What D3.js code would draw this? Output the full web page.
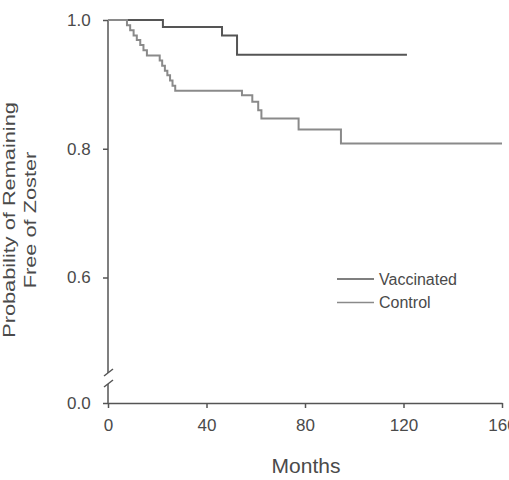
<!DOCTYPE html>
<html>
<head>
<meta charset="utf-8">
<script src="https://cdn.jsdelivr.net/npm/d3@7"></script>
<style>
  body { margin: 0; background: #fff; }
  text { font-family: "Liberation Sans", Arial, Helvetica, sans-serif; fill: #4a4a4a; }
</style>
</head>
<body>
<script>
// Kaplan-Meier curves (months, probability)
var vaccMonths = [0, 22.3, 46.3, 52.4, 121.4];
var vaccValues = [1.0, 0.989, 0.976, 0.946, 0.946];

var ctrlMonths = [0, 7.7, 9.0, 10.4, 11.7, 13.1, 14.4, 15.8,
                  21.0, 22.0, 23.1, 24.1, 25.2, 26.2, 27.3,
                  54.4, 58.6, 61.0, 62.3, 77.4, 94.6, 160];
var ctrlValues = [1.0, 0.992, 0.984, 0.976, 0.969, 0.961, 0.953, 0.945,
                  0.937, 0.929, 0.921, 0.914, 0.906, 0.898, 0.890,
                  0.883, 0.873, 0.860, 0.847, 0.830, 0.808, 0.808];

var xTicks = [0, 40, 80, 120, 160];
var yTicks = [0.0, 0.6, 0.8, 1.0];

var seriesNames = ["Vaccinated", "Control"];
var seriesColors = ["#555555", "#8a8a8a"];

var margin = {top: 20, right: 7, bottom: 77, left: 108},
    width = 509 - margin.left - margin.right,
    height = 480 - margin.top - margin.bottom;

var x = d3.scaleLinear().domain([0, 160]).range([0, width]);
// broken axis: 0.0 sits below the break, 0.6 - 1.0 is linear
var y = d3.scaleLinear().domain([0, 0.6, 1.0]).range([height, 257.5, 0]);

var svg = d3.select("body").append("svg")
    .attr("width", width + margin.left + margin.right)
    .attr("height", height + margin.top + margin.bottom)
  .append("g")
    .attr("transform", "translate(" + margin.left + "," + margin.top + ")");

var axisColor = "#555";

// x axis
var gx = svg.append("g")
    .attr("transform", "translate(0," + height + ")")
    .call(d3.axisBottom(x).tickValues(xTicks).tickFormat(d3.format("d")).tickSize(5).tickSizeOuter(0));
gx.select(".domain").attr("stroke", axisColor).attr("stroke-width", 1.5);
gx.selectAll(".tick line").attr("stroke", axisColor).attr("stroke-width", 1.5);
gx.selectAll(".tick text").attr("font-size", 17).attr("dy", "1.2em").style("fill", "#4a4a4a");

// y axis, without its domain line (drawn with a break below)
var gy = svg.append("g")
    .call(d3.axisLeft(y).tickValues(yTicks).tickFormat(d3.format(".1f")).tickSize(5));
gy.select(".domain").remove();
gy.selectAll(".tick line").attr("stroke", axisColor).attr("stroke-width", 1.5);
gy.selectAll(".tick text").attr("font-size", 17).attr("dx", "-0.55em").style("fill", "#4a4a4a");

var breakTop = 353, breakBottom = 364;
svg.append("line").attr("x1", 0).attr("x2", 0).attr("y1", y(1.0)).attr("y2", breakTop)
    .attr("stroke", axisColor).attr("stroke-width", 1.5);
svg.append("line").attr("x1", 0).attr("x2", 0).attr("y1", breakBottom).attr("y2", height)
    .attr("stroke", axisColor).attr("stroke-width", 1.5);
[breakTop, breakBottom].forEach(function(b) {
  svg.append("line")
      .attr("x1", -4).attr("y1", b + 3)
      .attr("x2", 5).attr("y2", b - 4)
      .attr("stroke", axisColor).attr("stroke-width", 1.5);
});

// curves
var line = d3.line()
    .x(function(d) { return x(d[0]); })
    .y(function(d) { return y(d[1]); })
    .curve(d3.curveStepAfter);

var series = [d3.zip(vaccMonths, vaccValues), d3.zip(ctrlMonths, ctrlValues)];

svg.selectAll(".curve")
    .data(series)
  .enter().append("path")
    .attr("class", "curve")
    .attr("fill", "none")
    .attr("stroke", function(d, i) { return seriesColors[i]; })
    .attr("stroke-width", 2)
    .attr("d", line);

// legend
var legend = svg.selectAll(".legend")
    .data(seriesNames)
  .enter().append("g")
    .attr("class", "legend")
    .attr("transform", function(d, i) { return "translate(229," + (259 + i * 23.5) + ")"; });

legend.append("line")
    .attr("x1", 0).attr("x2", 37)
    .attr("stroke", function(d, i) { return seriesColors[i]; })
    .attr("stroke-width", 1.5);

legend.append("text")
    .attr("x", 42)
    .attr("dy", "0.35em")
    .attr("font-size", 16)
    .text(function(d) { return d; });

// axis titles
svg.append("text")
    .attr("x", width / 2 + 1)
    .attr("y", height + 70)
    .attr("text-anchor", "middle")
    .attr("font-size", 21)
    .text("Months");

// the y title in the picture is stretched along its length
var yTitle = svg.append("text")
    .attr("transform", "translate(-93," + 200 + ") rotate(-90) scale(1.36,1)")
    .attr("text-anchor", "middle")
    .attr("font-size", 16);
yTitle.append("tspan").attr("x", 0).attr("dy", 0).text("Probability of Remaining");
yTitle.append("tspan").attr("x", 0).attr("dy", 21).text("Free of Zoster");
</script>
</body>
</html>
